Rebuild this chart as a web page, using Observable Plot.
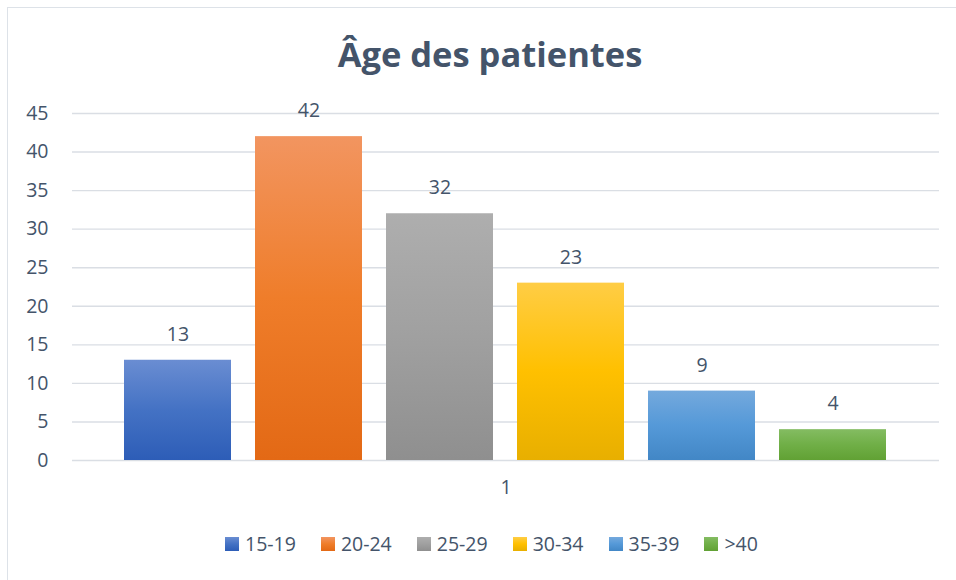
<!DOCTYPE html>
<html>
<head>
<meta charset="utf-8">
<script src="https://cdn.jsdelivr.net/npm/d3@7"></script>
<script src="https://cdn.jsdelivr.net/npm/@observablehq/plot@0.6"></script>
<style>
  html, body { margin: 0; padding: 0; background: #fff; overflow: hidden; }
  body { width: 956px; height: 580px; position: relative; font-family: "Open Sans", sans-serif; }
  #frame { position: absolute; left: 7px; top: 7px; width: 980px; height: 600px;
           border-left: 1.5px solid #dde2e8; border-top: 1.5px solid #dde2e8; }
  #title { position: absolute; left: 0; width: 980px; top: 37px; text-align: center;
           font-family: "Open Sans", sans-serif; font-weight: 700; font-size: 34.5px; line-height: 1;
           color: #44546A; }
  #chart { position: absolute; left: 0; top: 0; }
  #legend { position: absolute; left: 225px; top: 534px; display: flex; align-items: center;
            font-size: 19.5px; color: #44546A; line-height: 1; }
  .item { display: flex; align-items: center; margin-right: 25px; }
  .sw { width: 14px; height: 14px; margin-right: 6px; }
</style>
</head>
<body>
<div id="frame"></div>
<div id="chart"></div>
<div id="title">Âge des patientes</div>
<div id="legend"></div>
<script>
// ---- data ----
const groups = ["1"];
const ageClasses = ["15-19", "20-24", "25-29", "30-34", "35-39", ">40"];
const counts = [13, 42, 32, 23, 9, 4];
const yTicks = [0, 5, 10, 15, 20, 25, 30, 35, 40, 45];
// gradient colours per class: [top, middle, bottom]
const gradTop = ["#6A8DD2", "#F29560", "#AEAEAE", "#FFCD45", "#74A9DD", "#84BC62"];
const gradMid = ["#4472C4", "#EF7D2A", "#A0A0A0", "#FFC000", "#5599D8", "#70AF47"];
const gradBot = ["#2D5DB7", "#E36915", "#8F8F8F", "#E8AF00", "#4287C6", "#61A134"];

const data = ageClasses.map((c, i) => ({cls: c, n: counts[i]}));
const gradIds = ageClasses.map((c, i) => "grad" + i);
const textColor = "#44546A";
const fs = 19.5;

const chart = Plot.plot({
  width: 956,
  height: 580,
  marginTop: 113,
  marginBottom: 120,
  marginLeft: 72,
  marginRight: 17,
  style: {fontFamily: "Open Sans, sans-serif", fontSize: fs + "px", color: textColor, background: "transparent"},
  x: {domain: ageClasses, paddingInner: 0.183, paddingOuter: 0.397, axis: null},
  y: {domain: [0, 45]},
  color: {domain: ageClasses, range: gradIds.map(id => `url(#${id})`)},
  marks: [
    Plot.ruleY(yTicks, {stroke: "#dadee4", strokeWidth: 1.4}),
    Plot.axisY(yTicks, {tickSize: 0, tickPadding: 24, fill: textColor, fontSize: fs, label: null}),
    Plot.barY(data, {x: "cls", y: "n", fill: "cls"}),
    Plot.text(data, {x: "cls", y: "n", text: d => String(d.n), dy: -25.5, fill: textColor, fontSize: fs}),
    Plot.text(groups, {frameAnchor: "bottom", text: d => d, dy: 33, fill: textColor, fontSize: fs})
  ]
});

// gradient definitions
const svg = d3.select(chart);
const defs = svg.insert("defs", ":first-child");
ageClasses.forEach((c, i) => {
  const g = defs.append("linearGradient").attr("id", gradIds[i])
    .attr("x1", 0).attr("y1", 0).attr("x2", 0).attr("y2", 1);
  g.append("stop").attr("offset", "0%").attr("stop-color", gradTop[i]);
  g.append("stop").attr("offset", "50%").attr("stop-color", gradMid[i]);
  g.append("stop").attr("offset", "100%").attr("stop-color", gradBot[i]);
});
document.getElementById("chart").appendChild(chart);

// legend
const legend = d3.select("#legend");
ageClasses.forEach((c, i) => {
  const it = legend.append("div").attr("class", "item");
  it.append("div").attr("class", "sw")
    .style("background", `linear-gradient(to bottom, ${gradTop[i]}, ${gradMid[i]} 50%, ${gradBot[i]})`);
  it.append("span").text(c);
});
</script>
</body>
</html>
